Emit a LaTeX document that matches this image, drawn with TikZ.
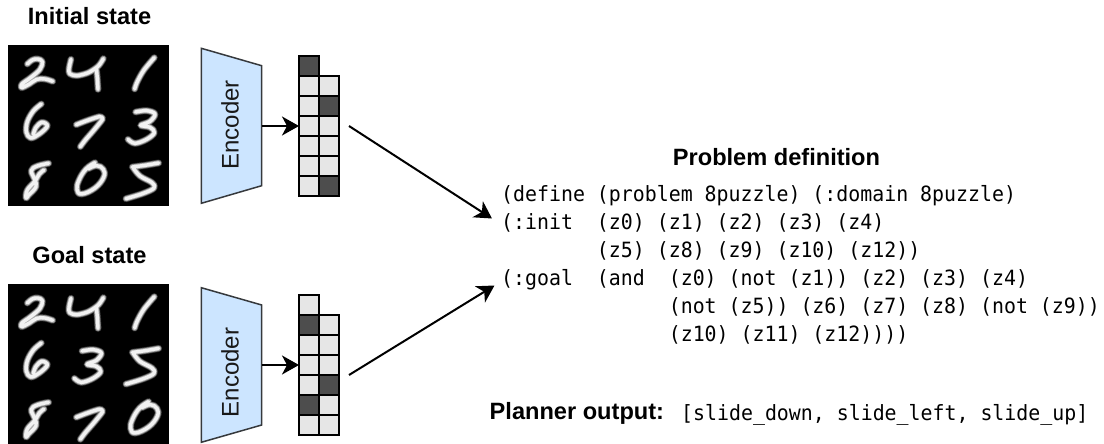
\documentclass[tikz,border=0pt]{standalone}
\usepackage{fontspec}
\setmainfont{Liberation Sans}
\newfontfamily\pddlfont[FakeStretch=0.947]{DejaVu Sans Mono}
\usetikzlibrary{arrows.meta}
\definecolor{encfill}{HTML}{CCE5FF}
\definecolor{encline}{HTML}{36393D}
\definecolor{celllight}{HTML}{E6E6E6}
\definecolor{celldark}{HTML}{4D4D4D}
\tikzset{
  headtext/.style={font=\fontsize{23.6}{28}\selectfont\bfseries,inner sep=0pt},
  pddl/.style={font=\fontsize{21}{24}\selectfont\pddlfont\frenchspacing,anchor=base west,inner sep=0pt},
  encshape/.style={draw=encline,fill=encfill,line width=1.5pt,line join=miter},
  enctext/.style={font=\fontsize{24}{28}\selectfont,rotate=90,inner sep=0pt,text=black!90},
  cellbase/.style={draw=black,line width=1.6pt,minimum size=20pt,inner sep=0pt,outer sep=0pt},
  lightcell/.style={cellbase,fill=celllight},
  darkcell/.style={cellbase,fill=celldark},
  conn/.style={line width=2pt,-{Stealth[length=17pt,width=19pt,inset=5pt]}},
  mnist/.style={fill=black,draw=none,minimum size=161pt,inner sep=0pt,anchor=north west},
  ds0/.style={line width=7.2pt,color=white!14!black,line cap=round,line join=round},
  ds1/.style={line width=6.2pt,color=white!38!black,line cap=round,line join=round},
  ds2/.style={line width=5pt,color=white!68!black,line cap=round,line join=round},
  ds3/.style={line width=3.4pt,color=white!95!black,line cap=round,line join=round},
}
\newcommand{\pathTwo}{plot[smooth,tension=.6] coordinates {(82,72)(97,60)(113,57)(127,65)(120,88)(92,113)(66,132)(65,143)(88,132)(110,118)(135,117)(158,124)}}
\newcommand{\pathFour}{plot[smooth,tension=.5] coordinates {(213,58)(207,85)(209,101)(230,107)(265,98)(295,78)(310,56)} plot[smooth,tension=.5] coordinates {(289,85)(292,115)(294,148)}}
\newcommand{\pathOne}{plot[smooth,tension=.6] coordinates {(463,53)(432,90)(412,125)(404,147)}}
\newcommand{\pathSix}{plot[smooth,tension=.6] coordinates {(124,192)(100,213)(82,245)(79,276)(92,294)(118,282)(142,258)(126,247)(108,262)(100,283)}}
\newcommand{\pathSeven}{plot[smooth,tension=.4] coordinates {(229,254)(260,242)(298,230)(308,237)(282,270)(256,300)(241,320)}}
\newcommand{\pathThree}{plot[smooth,tension=.6] coordinates {(407,216)(440,212)(465,222)(450,244)(422,256)(450,262)(463,278)(440,298)(405,310)(384,298)}}
\newcommand{\pathEight}{plot[smooth,tension=.7] coordinates {(146,370)(112,378)(94,392)(104,418)(108,440)(86,465)(78,474)(82,450)(104,425)(118,402)(132,390)}}
\newcommand{\pathZero}{plot[smooth,tension=.7] coordinates {(285,368)(258,387)(237,420)(231,448)(245,462)(285,444)(311,412)(310,388)(290,377)(265,386)}}
\newcommand{\pathFive}{plot[smooth,tension=.3] coordinates {(476,369)(435,376)(397,381)} plot[smooth,tension=.6] coordinates {(400,384)(420,408)(456,428)(462,444)(430,460)(378,476)}}
\newcommand{\digitAt}[3]{%
  \begin{scope}[shift={(#2,#3)},x=.33333pt,y=-.33333pt]
    \draw[ds0] #1; \draw[ds1] #1; \draw[ds2] #1; \draw[ds3] #1;
  \end{scope}}
\begin{document}
\begin{tikzpicture}[x=1pt,y=-1pt]
\useasboundingbox (0,0) rectangle (1104,444);
\fill[white] (0,0) rectangle (1104,444);

% Headings
\node[headtext,anchor=base] (h1) at (89.5,25) {Initial state};
\node[headtext,anchor=base] (h2) at (89.5,263) {Goal state};
\node[headtext,anchor=base] (h3) at (776.5,165) {Problem definition};
\node[headtext,anchor=base west] (h4) at (489.5,419) {Planner output:};

% MNIST tiles, first
\begin{scope}
\clip (8,45) rectangle (169,206);
\node[mnist] (img1) at (8,45) {};
\digitAt{\pathTwo}{0}{40}
\digitAt{\pathFour}{0}{40}
\digitAt{\pathOne}{0}{40}
\digitAt{\pathSix}{0}{40}
\digitAt{\pathSeven}{0}{40}
\digitAt{\pathThree}{0}{40}
\digitAt{\pathEight}{0}{40}
\digitAt{\pathZero}{0}{40}
\digitAt{\pathFive}{0}{40}
\end{scope}

% MNIST tiles, second
\begin{scope}
\clip (8,284) rectangle (169,444);
\node[mnist] (img2) at (8,284) {};
\digitAt{\pathTwo}{0}{279}
\digitAt{\pathFour}{0}{279}
\digitAt{\pathOne}{0}{279}
\digitAt{\pathSix}{0}{279}
\digitAt{\pathThree}{-53.6}{279}
\digitAt{\pathFive}{0}{225.4}
\digitAt{\pathEight}{0}{279}
\digitAt{\pathSeven}{0}{332.6}
\digitAt{\pathZero}{53.6}{279}
\end{scope}

% Encoders
\draw[encshape] (201.3,48.3) -- (261.7,65.7) -- (261.7,185.7) -- (201.3,203.3) -- cycle;
\coordinate (enc1out) at (261.7,126);
\node[enctext] (enc1) at (230,125) {Encoder};
\draw[encshape] (201.3,287.7) -- (261.7,305) -- (261.7,425) -- (201.3,442.3) -- cycle;
\coordinate (enc2out) at (261.7,365);
\node[enctext] (enc2) at (230,372.5) {Encoder};

% Latent grid 1
\node[darkcell]  (a10) at (309,66) {};
\node[lightcell] (a11) at (309,86) {};
\node[lightcell] (a12) at (309,106) {};
\node[lightcell] (a13) at (309,126) {};
\node[lightcell] (a14) at (309,146) {};
\node[lightcell] (a15) at (309,166) {};
\node[lightcell] (a16) at (309,186) {};
\node[lightcell] (b11) at (329,86) {};
\node[darkcell]  (b12) at (329,106) {};
\node[lightcell] (b13) at (329,126) {};
\node[lightcell] (b14) at (329,146) {};
\node[lightcell] (b15) at (329,166) {};
\node[darkcell]  (b16) at (329,186) {};

% Latent grid 2
\node[lightcell] (a20) at (309,305) {};
\node[darkcell]  (a21) at (309,325) {};
\node[lightcell] (a22) at (309,345) {};
\node[lightcell] (a23) at (309,365) {};
\node[lightcell] (a24) at (309,385) {};
\node[darkcell]  (a25) at (309,405) {};
\node[lightcell] (a26) at (309,425) {};
\node[lightcell] (b21) at (329,325) {};
\node[lightcell] (b22) at (329,345) {};
\node[lightcell] (b23) at (329,365) {};
\node[darkcell]  (b24) at (329,385) {};
\node[lightcell] (b25) at (329,405) {};
\node[lightcell] (b26) at (329,425) {};

% Problem text
\node[pddl] (l1) at (501,201) {(define (problem 8puzzle) (:domain 8puzzle)};
\node[pddl] (l2) at (501,229) {(:init~~(z0) (z1) (z2) (z3) (z4)};
\node[pddl] (l3) at (501,257) {~~~~~~~~(z5) (z8) (z9) (z10) (z12))};
\node[pddl] (l4) at (501,285) {(:goal~~(and~~(z0) (not (z1)) (z2) (z3) (z4)};
\node[pddl] (l5) at (501,313) {~~~~~~~~~~~~~~(not (z5)) (z6) (z7) (z8) (not (z9))};
\node[pddl] (l6) at (501,341) {~~~~~~~~~~~~~~(z10) (z11) (z12))))};
\node[pddl] (plan) at (681,420) {[slide\_down, slide\_left, slide\_up]};

% Connectors
\coordinate (out1) at (349,126);
\coordinate (out2) at (349,375);
\coordinate (in1) at (492,218.5);
\coordinate (in2) at (494.5,285.5);
\draw[conn] (enc1out) -- (a13.west);
\draw[conn] (enc2out) -- (a23.west);
\draw[conn] (out1) -- (in1);
\draw[conn] (out2) -- (in2);
\end{tikzpicture}
\end{document}
